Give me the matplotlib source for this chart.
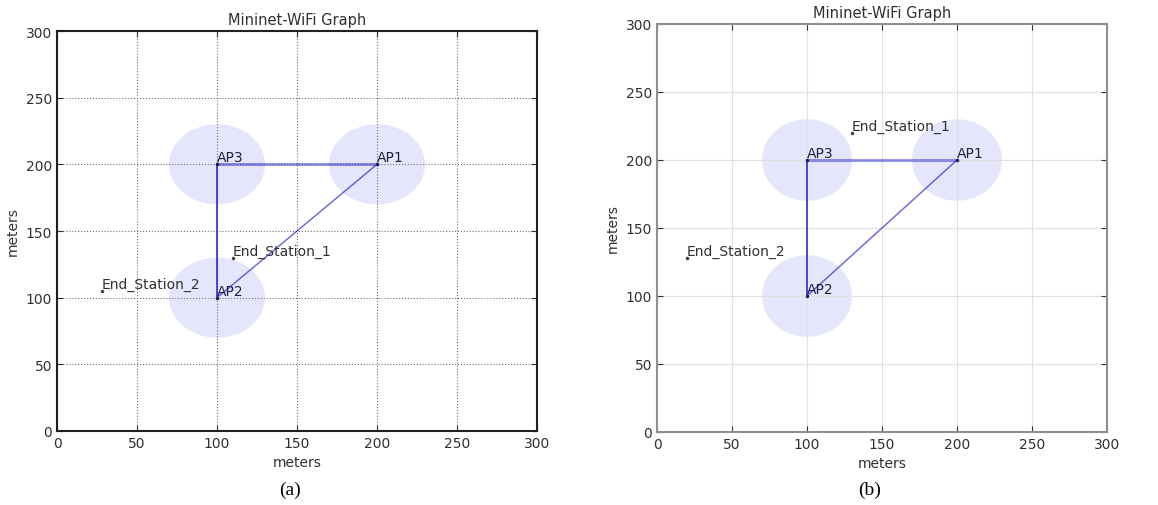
import matplotlib.pyplot as plt
from matplotlib.patches import Ellipse

# access points (same in both panels)
ap_names = ['AP1', 'AP2', 'AP3']
ap_x = [200, 100, 100]
ap_y = [200, 100, 200]
ap_range = 30

# links between access points
links = [('AP3', 'AP1'), ('AP3', 'AP2'), ('AP1', 'AP2')]

# stations, panel (a) and panel (b)
sta_names = ['End_Station_1', 'End_Station_2']
sta_x_a = [110, 28]
sta_y_a = [130, 105]
sta_x_b = [130, 20]
sta_y_b = [220, 128]

ticks = [0, 50, 100, 150, 200, 250, 300]

W, H = 1158, 506
fig = plt.figure(figsize=(W / 100, H / 100), dpi=100)


def draw(ax, sx, sy, style):
    ax.set_xlim(0, 300)
    ax.set_ylim(0, 300)
    ax.set_xticks(ticks)
    ax.set_yticks(ticks)
    pos = {n: (x, y) for n, x, y in zip(ap_names, ap_x, ap_y)}
    for n, x, y in zip(ap_names, ap_x, ap_y):
        ax.add_patch(Ellipse((x, y), 2 * ap_range, 2 * ap_range,
                             color='#3030e0', alpha=0.12, lw=0))
    widths = {('AP3', 'AP1'): 2.2, ('AP3', 'AP2'): 1.4, ('AP1', 'AP2'): 1.1}
    alphas = {('AP3', 'AP1'): 0.45, ('AP3', 'AP2'): 0.8, ('AP1', 'AP2'): 0.65}
    for a, b in links:
        ax.plot([pos[a][0], pos[b][0]], [pos[a][1], pos[b][1]], color='#2020d0',
                lw=widths[(a, b)], alpha=alphas[(a, b)], zorder=2)
    for n, x, y in zip(ap_names, ap_x, ap_y):
        ax.plot(x, y, '.', color='#202050', ms=3, zorder=3)
        ax.text(x, y, n, fontsize=10, color='#202040', va='bottom', ha='left')
    for n, x, y in zip(sta_names, sx, sy):
        ax.plot(x, y, '.', color='#404040', ms=3, zorder=3)
        ax.text(x, y, n, fontsize=10, color='#303030', va='bottom', ha='left')
    ax.set_title('Mininet-WiFi Graph', fontsize=10.5, color='#303030', pad=5)
    ax.set_xlabel('meters', fontsize=10, color='#303030')
    ax.set_ylabel('meters', fontsize=10, color='#303030')
    ax.tick_params(direction='in', top=True, right=True, labelsize=10,
                   colors='#303030', length=4)
    if style == 'a':
        ax.grid(True, ls=':', color='#707070', lw=0.8)
        for s in ax.spines.values():
            s.set_linewidth(1.5)
            s.set_color('#202020')
    else:
        ax.grid(True, ls='-', color='#e0e0e0', lw=0.8)
        for s in ax.spines.values():
            s.set_linewidth(1.5)
            s.set_color('#909090')


ax1 = fig.add_axes([57 / W, (H - 432) / H, 480 / W, 400 / H])
draw(ax1, sta_x_a, sta_y_a, 'a')
ax2 = fig.add_axes([657 / W, (H - 433) / H, 450 / W, 408 / H])
draw(ax2, sta_x_b, sta_y_b, 'b')

# sub-figure captions
fig.text(290 / W, (H - 490) / H, '(a)', ha='center', va='center',
         fontsize=14, family='Liberation Serif')
fig.text(870 / W, (H - 490) / H, '(b)', ha='center', va='center',
         fontsize=14, family='Liberation Serif')

fig.savefig('out.png', dpi=100)
